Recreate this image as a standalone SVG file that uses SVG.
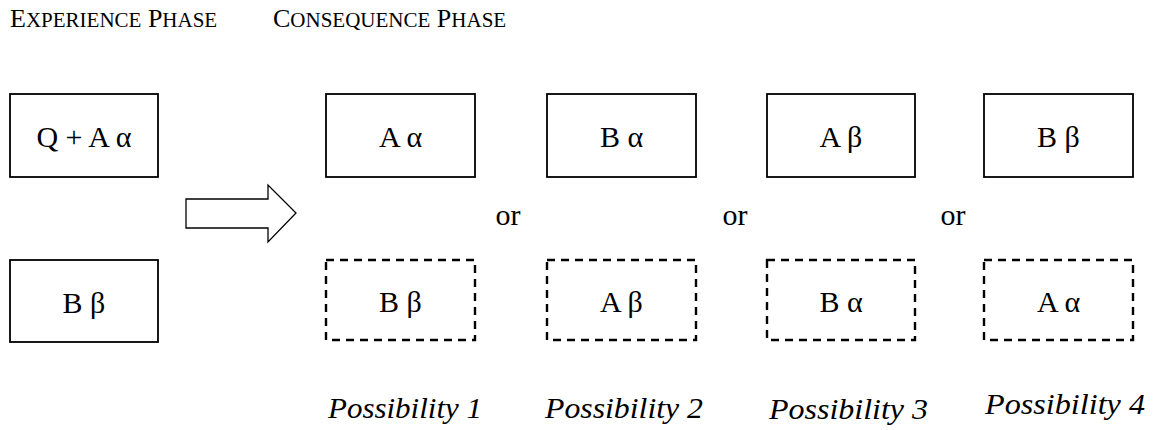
<svg xmlns="http://www.w3.org/2000/svg" width="1155" height="430" viewBox="0 0 1155 430">
<style>
.bg{fill:#ffffff}
.box{fill:#ffffff;stroke:#000;stroke-width:1.8}
.dbox{fill:#ffffff;stroke:#000;stroke-width:2.4;stroke-dasharray:8 6}
.lbl{font-family:'Liberation Serif',serif;font-size:30px;fill:#000;text-anchor:middle}
.hdr{font-family:'Liberation Serif',serif;font-size:26px;fill:#000}
.sc{font-size:21px}
.poss{font-family:'Liberation Serif',serif;font-style:italic;font-size:29px;fill:#000}
.arrow{fill:#ffffff;stroke:#000;stroke-width:1.3;stroke-linejoin:miter}
</style>
<rect class="bg" x="0" y="0" width="1155" height="430"/>
<g id="headers" font-family="Liberation Serif, serif">
<text class="hdr" x="10" y="27">E<tspan class="sc">XPERIENCE</tspan> P<tspan class="sc">HASE</tspan></text>
<text class="hdr" x="273" y="27">C<tspan class="sc">ONSEQUENCE</tspan> P<tspan class="sc">HASE</tspan></text>
</g>
<g font-family="Liberation Serif, serif">
<g id="exp-top"><rect class="box" x="10" y="94" width="148" height="83"/><text class="lbl" x="84" y="147">Q + A α</text></g>
<g id="exp-bottom"><rect class="box" x="10" y="260" width="148" height="82"/><text class="lbl" x="84" y="313">B β</text></g>
<g id="p1-top"><rect class="box" x="326" y="94" width="149" height="83"/><text class="lbl" x="400.5" y="147">A α</text></g>
<g id="p1-bottom"><rect class="dbox" x="326" y="260" width="149" height="80"/><text class="lbl" x="400.5" y="312">B β</text></g>
<g id="p2-top"><rect class="box" x="547" y="94" width="149" height="83"/><text class="lbl" x="621.5" y="147">B α</text></g>
<g id="p2-bottom"><rect class="dbox" x="547" y="260" width="149" height="80"/><text class="lbl" x="621.5" y="312">A β</text></g>
<g id="p3-top"><rect class="box" x="767" y="94" width="148" height="83"/><text class="lbl" x="841" y="147">A β</text></g>
<g id="p3-bottom"><rect class="dbox" x="767" y="260" width="148" height="80"/><text class="lbl" x="841" y="312">B α</text></g>
<g id="p4-top"><rect class="box" x="984" y="94" width="149" height="83"/><text class="lbl" x="1058.5" y="147">B β</text></g>
<g id="p4-bottom"><rect class="dbox" x="984" y="260" width="149" height="80"/><text class="lbl" x="1058.5" y="312">A α</text></g>
<g id="or-labels">
<text class="lbl" x="508" y="225">or</text>
<text class="lbl" x="735" y="225">or</text>
<text class="lbl" x="953" y="225">or</text>
</g>
<g id="possibilities">
<text class="poss" x="328" y="418" textLength="154" lengthAdjust="spacingAndGlyphs">Possibility 1</text>
<text class="poss" x="545" y="418" textLength="158" lengthAdjust="spacingAndGlyphs">Possibility 2</text>
<text class="poss" x="769" y="419" textLength="159" lengthAdjust="spacingAndGlyphs">Possibility 3</text>
<text class="poss" x="985" y="414" textLength="160" lengthAdjust="spacingAndGlyphs">Possibility 4</text>
</g>
</g>
<g id="connectors">
<polygon class="arrow" points="186,199 268,199 268,185 296,213 268,242 268,228 186,228"/>
</g>
</svg>
